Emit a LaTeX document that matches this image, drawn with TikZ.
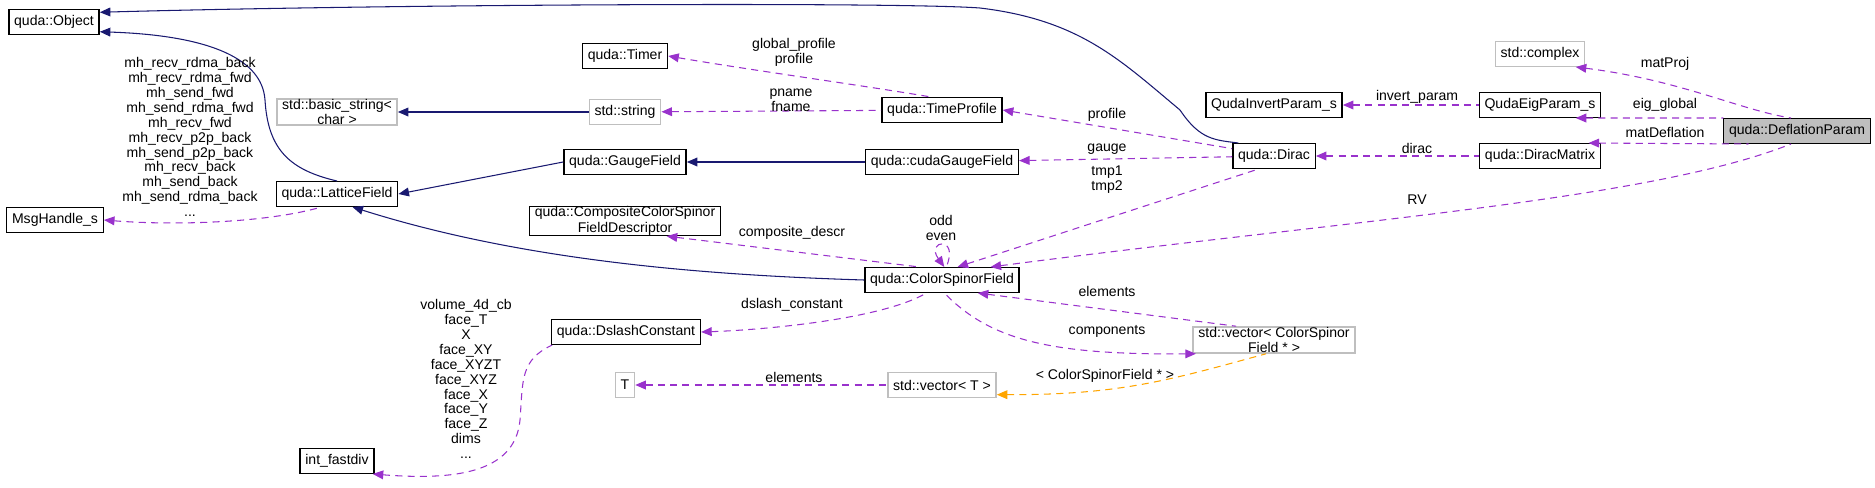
\documentclass[tikz,border=0pt]{standalone}
\usepackage{fontspec}
\setmainfont{Liberation Sans}
\usetikzlibrary{arrows.meta}
\definecolor{navyc}{RGB}{25,25,112}
\definecolor{orchidc}{RGB}{153,50,204}
\definecolor{greyc}{RGB}{191,191,191}
\definecolor{orangec}{RGB}{255,165,0}
\tikzset{
  cls/.style={draw=black, thick, rectangle, inner xsep=3pt, inner ysep=0pt, minimum height=14pt, font=\fontsize{8}{9}\selectfont, align=center},
  ext/.style={cls, draw=greyc},
  lbl/.style={inner sep=0pt, font=\fontsize{8}{8.5}\selectfont, align=center},
  inh/.style={navyc, semithick, {Triangle[length=6pt,width=5pt]}-},
  use/.style={orchidc, semithick, dash pattern=on 4pt off 3pt, {Triangle[length=6pt,width=5pt]}-},
  tpl/.style={use, orangec}
}
\begin{document}
\begin{tikzpicture}[x=0.02cm, y=-0.02cm]
    \useasboundingbox (0,0) rectangle (1875,487);
    % Classes, left to right
    \node[cls] (obj) at (54,22) {quda::Object};
    \node[cls] (msg) at (55,220) {MsgHandle\_s};
    \node[ext] (bstr) at (337,112) {std::basic\_string<\\char >};
    \node[cls] (lat) at (337,194) {quda::LatticeField};
    \node[cls] (fdiv) at (337,461) {int\_fastdiv};
    \node[cls] (timer) at (625,56) {quda::Timer};
    \node[ext] (str) at (625,112) {std::string};
    \node[cls] (gauge) at (625,162) {quda::GaugeField};
    \node[cls] (cdesc) at (625,221) {quda::CompositeColorSpinor\\FieldDescriptor};
    \node[cls] (dsc) at (626,332) {quda::DslashConstant};
    \node[ext] (tt) at (625,385) {T};
    \node[cls] (tprof) at (942,110) {quda::TimeProfile};
    \node[cls] (cgauge) at (942,162) {quda::cudaGaugeField};
    \node[cls] (csf) at (942,280) {quda::ColorSpinorField};
    \node[ext] (vect) at (942,385) {std::vector< T >};
    \node[cls] (dirac) at (1274,156) {quda::Dirac};
    \node[cls] (qinv) at (1274,105) {QudaInvertParam\_s};
    \node[ext] (vcsf) at (1274,340) {std::vector< ColorSpinor\\Field * >};
    \node[ext] (cplx) at (1540,54) {std::complex};
    \node[cls] (qeig) at (1540,105) {QudaEigParam\_s};
    \node[cls] (dmat) at (1540,156) {quda::DiracMatrix};
    \node[cls, fill=greyc] (defl) at (1797,131) {quda::DeflationParam};

    % Inheritance
    \draw[inh] (obj.12) .. controls (400,4) and (900,2) .. (980,8) .. controls (1080,20) and (1120,60) .. (1180,110) .. controls (1200,140) and (1215,140) .. (dirac.160);
    \draw[inh] (obj.-12) .. controls (200,35) and (262,55) .. (265,100) .. controls (268,150) and (290,170) .. (lat.north);
    \draw[inh] (bstr) -- (str);
    \draw[inh] (lat.east) -- (gauge.west);
    \draw[inh] (gauge) -- (cgauge);
    \draw[inh] (lat.-40) .. controls (520,260) and (700,275) .. (csf.west);

    % Members
    \draw[use] (msg.east) .. controls (180,226) and (270,222) .. (lat.-140);
    \draw[use] (timer.east) .. controls (750,70) and (860,85) .. (tprof.130);
    \draw[use] (str) -- (tprof);
    \draw[use] (tprof.east) -- (dirac.170);
    \draw[use] (cgauge) -- (dirac);
    \draw[use] (csf.40) -- (dirac.-140);
    \draw[use] (csf.80) .. controls (925,240) and (960,235) .. (csf.72);
    \draw[use] (cdesc.-20) -- (csf.150);
    \draw[use] (dsc.east) .. controls (760,330) and (880,320) .. (csf.-140);
    \draw[use] (fdiv.-20) .. controls (450,480) and (515,475) .. (520,420) .. controls (523,380) and (520,360) .. (dsc.-170);
    \draw[use] (csf.-20) -- (vcsf.160);
    \draw[use] (vcsf.-170) .. controls (1050,355) and (990,340) .. (csf.-80);
    \draw[use] (tt) -- (vect);
    \draw[tpl] (vect.-10) .. controls (1120,395) and (1170,380) .. (vcsf.-120);
    \draw[use] (qinv) -- (qeig);
    \draw[use] (dirac) -- (dmat);
    \draw[use] (cplx.-20) .. controls (1680,80) and (1740,110) .. (defl.115);
    \draw[use] (qeig.-20) -- (defl.170);
    \draw[use] (dmat.15) -- (defl.-165);
    \draw[use] (csf.15) .. controls (1350,220) and (1650,200) .. (defl.-115);

    % Labels
    \node[lbl] (lmsg) at (190,137) {mh\_recv\_rdma\_back\\mh\_recv\_rdma\_fwd\\mh\_send\_fwd\\mh\_send\_rdma\_fwd\\mh\_recv\_fwd\\mh\_recv\_p2p\_back\\mh\_send\_p2p\_back\\mh\_recv\_back\\mh\_send\_back\\mh\_send\_rdma\_back\\...};
    \node[lbl] (ldsc) at (466,379) {volume\_4d\_cb\\face\_T\\X\\face\_XY\\face\_XYZT\\face\_XYZ\\face\_X\\face\_Y\\face\_Z\\dims\\...};
    \node[lbl] (lgp) at (794,52) {global\_profile\\profile};
    \node[lbl] (lpn) at (791,100) {pname\\fname};
    \node[lbl] (lprof) at (1107,115) {profile};
    \node[lbl] (lgauge) at (1107,149) {gauge};
    \node[lbl] (ltmp) at (1107,180) {tmp1\\tmp2};
    \node[lbl] (lodd) at (941,228) {odd\\even};
    \node[lbl] (lcd) at (792,233) {composite\_descr};
    \node[lbl] (lds) at (792,305) {dslash\_constant};
    \node[lbl] (lel) at (1107,291) {elements};
    \node[lbl] (lcomp) at (1107,331) {components};
    \node[lbl] (lelt) at (794,377) {elements};
    \node[lbl] (ltpl) at (1105,376) {< ColorSpinorField * >};
    \node[lbl] (linv) at (1417,97) {invert\_param};
    \node[lbl] (ldirac) at (1417,148) {dirac};
    \node[lbl] (lrv) at (1417,200) {RV};
    \node[lbl] (lproj) at (1665,64) {matProj};
    \node[lbl] (leig) at (1665,105) {eig\_global};
    \node[lbl] (ldefl) at (1665,132) {matDeflation};
\end{tikzpicture}
\end{document}
